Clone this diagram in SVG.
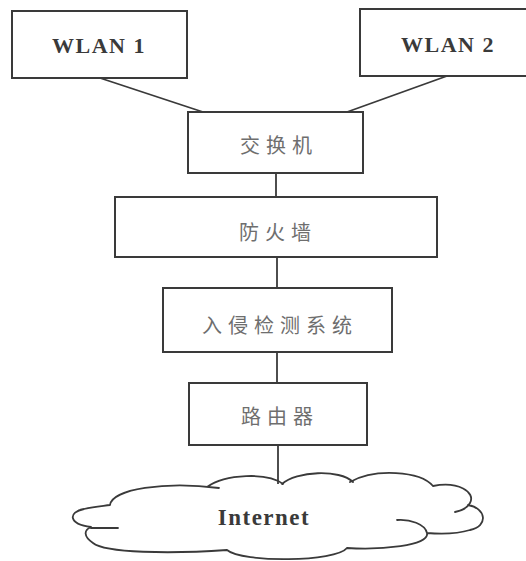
<svg xmlns="http://www.w3.org/2000/svg" width="526" height="561" viewBox="0 0 526 561">
<style>
.box{fill:#fff;stroke:#3a3a3a;stroke-width:2}
.ln{fill:none;stroke:#3a3a3a;stroke-width:1.8}
.cl{fill:none;stroke:#3a3a3a;stroke-width:1.8;stroke-linecap:round}
.en{font-family:"Liberation Serif","Times New Roman",serif;font-weight:bold;fill:#3a3a3a;text-anchor:middle}
.zh{font-family:"Noto Sans CJK SC","Noto Sans",sans-serif;font-size:20px;fill:#6e6e6e;letter-spacing:6px;text-anchor:middle}
</style>
<rect width="526" height="561" fill="#fff"/>
<g id="connectors">
<line class="ln" x1="100" y1="78" x2="203" y2="112"/>
<line class="ln" x1="447" y1="76" x2="347" y2="112"/>
<line class="ln" x1="276" y1="173" x2="276" y2="197"/>
<line class="ln" x1="277" y1="257" x2="277" y2="288"/>
<line class="ln" x1="277" y1="352" x2="277" y2="383"/>
<line class="ln" x1="278" y1="445" x2="278" y2="484"/>
</g>
<g id="wlan1"><rect class="box" x="12" y="11" width="175" height="67"/><text class="en" x="99" y="53" font-size="22" letter-spacing="1.5">WLAN 1</text></g>
<g id="wlan2"><rect class="box" x="360" y="9" width="170" height="67"/><text class="en" x="448" y="52" font-size="22" letter-spacing="1.5">WLAN 2</text></g>
<g id="switch"><rect class="box" x="188" y="112" width="175" height="61"/><text class="zh" x="279" y="152.5">交换机</text></g>
<g id="firewall"><rect class="box" x="115" y="197" width="322" height="60"/><text class="zh" x="278" y="239.5">防火墙</text></g>
<g id="ids"><rect class="box" x="163" y="288" width="229" height="64"/><text class="zh" x="280" y="332.5">入侵检测系统</text></g>
<g id="router"><rect class="box" x="189" y="383" width="178" height="62"/><text class="zh" x="280" y="423.5">路由器</text></g>
<g id="internet">
<path class="cl" d="M110,505 C112,489 165,481 219,488 M207,487 C225,474 268,472 283,484 M282,484 C296,471 340,469 353,482 M350,482 C375,468 420,471 433,486 M433,486 C458,481 476,492 470,503 Q466,510 455,512 M468,505 C486,508 489,526 470,530 C457,534 440,534 427,533 M397,520 C410,519 425,524 427,533 M427,533 C430,546 380,550 347,548 M347,548 C336,562 242,563 227,550 M227,550 C170,554 105,553 93,543 C83,536 84,530 91,527 M91,528 L118,528 M91,527 C68,524 68,512 84,509 C95,506 104,506 110,505"/>
<text class="en" x="264" y="525" font-size="23" letter-spacing="1.5">Internet</text>
</g>
</svg>
